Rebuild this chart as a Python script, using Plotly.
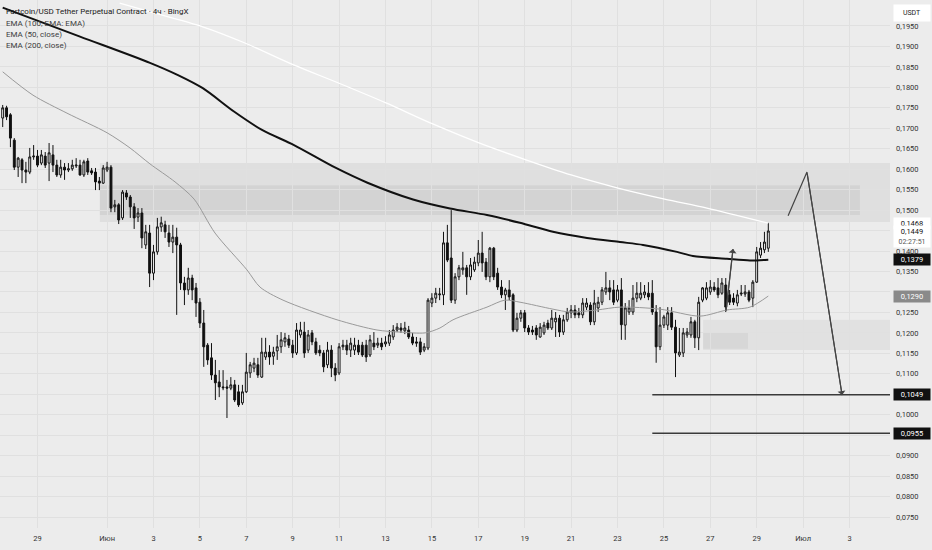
import plotly.graph_objects as go
import pandas as pd

# ---------------- data ----------------
candle_start = "2025-05-27 12:00"   # first 4h bar
opens = [.1725,.1750,.1733,.1671,.1605,.1623,.1598,.1593,.1630,.1632,
         .1615,.1632,.1615,.1635,.1610,.1586,.1605,.1598,.1601,.1608,
         .1610,.1586,.1620,.1596,.1593,.1571,.1566,.1598,.1605,.1508,
         .1513,.1481,.1542,.1532,.1508,.1483,.1493,.1415,.1444,.1346,
         .1398,.1459,.1464,.1444,.1422,.1434,.1415,.1322,.1305,.1334,
         .1310,.1275,.1224,.1170,.1139,.1097,.1080,.1068,.1068,.1065,
         .1073,.1056,.1029,.1056,.1102,.1114,.1122,.1092,.1141,.1153,
         .1143,.1156,.1166,.1178,.1185,.1170,.1151,.1195,.1202,.1158,
         .1200,.1178,.1158,.1151,.1122,.1158,.1114,.1102,.1166,.1170,
         .1158,.1158,.1170,.1170,.1170,.1146,.1175,.1170,.1175,.1173,
         .1175,.1190,.1207,.1212,.1205,.1207,.1190,.1178,.1178,.1158,
         .1163,.1273,.1285,.1293,.1293,.1420,.1383,.1280,.1337,.1354,
         .1359,.1337,.1354,.1371,.1395,.1373,.1337,.1407,.1346,.1312,
         .1293,.1305,.1293,.1207,.1236,.1249,.1212,.1207,.1212,.1190,
         .1200,.1224,.1212,.1227,.1236,.1202,.1232,.1249,.1256,.1249,
         .1244,.1263,.1268,.1227,.1261,.1275,.1300,.1310,.1305,.1280,
         .1305,.1219,.1251,.1251,.1285,.1285,.1293,.1297,.1297,.1251,
         .1166,.1219,.1219,.1249,.1214,.1146,.1151,.1195,.1195,.1227,
         .1188,.1280,.1285,.1300,.1312,.1310,.1297,.1317,.1293,.1285,
         .1273,.1295,.1295,.1300,.1285,.1324,.1390,.1403,.1407]
highs = [.1757,.1755,.1737,.1676,.1630,.1627,.1618,.1652,.1659,.1647,
         .1647,.1642,.1664,.1659,.1623,.1623,.1615,.1615,.1623,.1627,
         .1623,.1623,.1627,.1603,.1603,.1581,.1610,.1618,.1610,.1525,
         .1517,.1549,.1549,.1537,.1517,.1505,.1505,.1464,.1464,.1415,
         .1481,.1484,.1474,.1464,.1464,.1457,.1420,.1337,.1359,.1342,
         .1322,.1285,.1256,.1175,.1175,.1134,.1109,.1109,.1085,.1092,
         .1085,.1073,.1073,.1151,.1129,.1139,.1139,.1188,.1188,.1170,
         .1166,.1195,.1202,.1200,.1195,.1183,.1224,.1227,.1227,.1207,
         .1207,.1188,.1170,.1158,.1178,.1170,.1126,.1175,.1183,.1183,
         .1188,.1188,.1183,.1178,.1183,.1195,.1202,.1188,.1188,.1192,
         .1207,.1219,.1224,.1224,.1227,.1217,.1200,.1190,.1188,.1175,
         .1285,.1297,.1310,.1310,.1447,.1464,.1500,.1346,.1366,.1398,
         .1366,.1383,.1386,.1427,.1447,.1383,.1410,.1410,.1359,.1329,
         .1310,.1329,.1297,.1249,.1256,.1256,.1219,.1217,.1219,.1224,
         .1227,.1232,.1256,.1251,.1244,.1244,.1261,.1268,.1268,.1261,
         .1285,.1285,.1275,.1305,.1288,.1312,.1349,.1329,.1329,.1317,
         .1334,.1273,.1280,.1317,.1324,.1324,.1317,.1324,.1329,.1268,
         .1263,.1244,.1263,.1263,.1232,.1212,.1212,.1212,.1239,.1232,
         .1288,.1312,.1324,.1329,.1324,.1334,.1334,.1334,.1305,.1297,
         .1305,.1317,.1317,.1305,.1329,.1410,.1422,.1447,.1469]
lows = [.1703,.1720,.1654,.1598,.1581,.1566,.1566,.1588,.1623,.1605,
        .1610,.1603,.1571,.1593,.1581,.1579,.1574,.1593,.1596,.1603,
        .1584,.1581,.1586,.1586,.1549,.1549,.1564,.1593,.1495,.1495,
        .1466,.1476,.1525,.1481,.1454,.1471,.1407,.1405,.1312,.1329,
        .1391,.1447,.1432,.1410,.1395,.1244,.1305,.1268,.1293,.1280,
        .1239,.1212,.1117,.1122,.1085,.1036,.1043,.1060,.0992,.1060,
        .1031,.1019,.1024,.1053,.1090,.1104,.1090,.1090,.1134,.1122,
        .1122,.1134,.1151,.1166,.1163,.1139,.1146,.1188,.1139,.1151,
        .1170,.1146,.1143,.1104,.1114,.1092,.1082,.1097,.1158,.1146,
        .1141,.1146,.1146,.1141,.1129,.1141,.1158,.1163,.1158,.1166,
        .1168,.1183,.1202,.1200,.1197,.1185,.1170,.1166,.1146,.1153,
        .1158,.1263,.1273,.1280,.1268,.1373,.1273,.1271,.1329,.1342,
        .1293,.1329,.1349,.1363,.1349,.1329,.1324,.1329,.1305,.1285,
        .1256,.1280,.1202,.1202,.1227,.1202,.1195,.1195,.1183,.1188,
        .1195,.1207,.1207,.1190,.1190,.1195,.1227,.1236,.1236,.1236,
        .1236,.1256,.1219,.1219,.1251,.1268,.1293,.1280,.1268,.1275,
        .1183,.1183,.1244,.1244,.1275,.1280,.1285,.1280,.1244,.1127,
        .1158,.1212,.1207,.1207,.1092,.1141,.1141,.1188,.1188,.1163,
        .1158,.1275,.1280,.1293,.1300,.1285,.1293,.1251,.1268,.1268,
        .1265,.1290,.1288,.1275,.1263,.1322,.1383,.1395,.1398]
closes = [.1750,.1728,.1676,.1605,.1627,.1598,.1593,.1630,.1632,.1610,
          .1635,.1610,.1640,.1610,.1586,.1605,.1598,.1601,.1610,.1610,
          .1586,.1618,.1593,.1591,.1569,.1566,.1603,.1605,.1505,.1513,
          .1476,.1544,.1532,.1508,.1481,.1493,.1432,.1447,.1346,.1398,
          .1459,.1469,.1447,.1422,.1434,.1415,.1322,.1305,.1334,.1305,
          .1273,.1224,.1166,.1134,.1097,.1078,.1068,.1066,.1065,.1073,
          .1036,.1024,.1056,.1104,.1122,.1126,.1097,.1153,.1153,.1141,
          .1153,.1166,.1183,.1188,.1170,.1151,.1207,.1207,.1151,.1195,
          .1178,.1151,.1151,.1117,.1158,.1114,.1097,.1166,.1170,.1158,
          .1175,.1170,.1153,.1146,.1141,.1183,.1166,.1175,.1166,.1178,
          .1195,.1207,.1214,.1207,.1212,.1190,.1175,.1175,.1153,.1166,
          .1280,.1285,.1297,.1295,.1420,.1378,.1280,.1337,.1359,.1359,
          .1337,.1366,.1373,.1395,.1371,.1337,.1407,.1337,.1312,.1293,
          .1305,.1288,.1207,.1236,.1249,.1212,.1202,.1202,.1195,.1214,
          .1219,.1212,.1236,.1236,.1202,.1232,.1251,.1256,.1244,.1244,
          .1273,.1273,.1227,.1273,.1275,.1305,.1310,.1300,.1275,.1305,
          .1220,.1261,.1261,.1285,.1297,.1297,.1300,.1288,.1251,.1166,
          .1219,.1239,.1249,.1214,.1151,.1153,.1200,.1202,.1227,.1188,
          .1275,.1310,.1310,.1312,.1305,.1293,.1322,.1263,.1275,.1275,
          .1293,.1297,.1300,.1280,.1324,.1398,.1407,.1422,.1449]

# EMA 200 (light line)
ema200_t = ["2025-06-01 13:00", "2025-06-02 20:00", "2025-06-05 03:00", "2025-06-06 22:00",
            "2025-06-09 01:00", "2025-06-11 00:00", "2025-06-13 00:30", "2025-06-15 01:30",
            "2025-06-17 00:00", "2025-06-19 01:20", "2025-06-21 00:00", "2025-06-23 00:30",
            "2025-06-25 00:45", "2025-06-26 20:30", "2025-06-29 12:00"]
ema200_v = [0.2006, 0.1985, 0.1948, 0.1909, 0.1855, 0.1810, 0.1762, 0.1710,
            0.1665, 0.1623, 0.1586, 0.1554, 0.1527, 0.1505, 0.1468]
# EMA 100 (black line)
ema100_t = ["2025-05-27 12:00", "2025-05-30 20:00", "2025-06-02 20:20", "2025-06-04 01:20",
            "2025-06-05 03:00", "2025-06-06 11:15", "2025-06-07 16:15", "2025-06-09 01:20",
            "2025-06-10 20:45", "2025-06-12 05:20", "2025-06-14 04:30", "2025-06-15 18:45",
            "2025-06-17 09:00", "2025-06-18 19:00", "2025-06-20 05:15", "2025-06-21 16:30",
            "2025-06-23 02:30", "2025-06-24 02:30", "2025-06-25 13:30", "2025-06-26 06:00",
            "2025-06-27 17:15", "2025-06-28 17:00", "2025-06-29 12:00"]
ema100_v = [0.1995, 0.1924, 0.1860, 0.1830, 0.1798, 0.1741, 0.1696, 0.1659,
            0.1603, 0.1567, 0.1526, 0.1504, 0.1488, 0.1469, 0.1447, 0.1432,
            0.1422, 0.1415, 0.1398, 0.1388, 0.1381, 0.1377, 0.1379]
# EMA 50 (grey line)
ema50_t = ["2025-05-27 12:00", "2025-05-28 19:20", "2025-05-30 06:30", "2025-06-01 00:00",
           "2025-06-01 23:40", "2025-06-02 20:20", "2025-06-03 22:15", "2025-06-04 18:00",
           "2025-06-05 15:40", "2025-06-07 00:40", "2025-06-07 14:10", "2025-06-08 14:00",
           "2025-06-10 21:50", "2025-06-12 15:15", "2025-06-13 15:00", "2025-06-14 17:00",
           "2025-06-15 08:20", "2025-06-15 21:50", "2025-06-17 09:00", "2025-06-18 03:30",
           "2025-06-18 19:10", "2025-06-20 05:15", "2025-06-20 22:50", "2025-06-22 02:50",
           "2025-06-23 02:30", "2025-06-24 20:00", "2025-06-26 13:20", "2025-06-27 17:15",
           "2025-06-28 17:00", "2025-06-29 12:00"]
ema50_v = [0.1838, 0.1781, 0.1737, 0.1689, 0.1652, 0.1613, 0.1569, 0.1527,
           0.1444, 0.1354, 0.1312, 0.1280, 0.1232, 0.1207, 0.1202, 0.1200,
           0.1212, 0.1232, 0.1263, 0.1280, 0.1275, 0.1258, 0.1251, 0.1256,
           0.1263, 0.1258, 0.1241, 0.1256, 0.1263, 0.1290]

x_tick_dates = ["2025-05-29", "2025-06-01", "2025-06-03", "2025-06-05", "2025-06-07",
                "2025-06-09", "2025-06-11", "2025-06-13", "2025-06-15", "2025-06-17",
                "2025-06-19", "2025-06-21", "2025-06-23", "2025-06-25", "2025-06-27",
                "2025-06-29", "2025-07-01", "2025-07-03"]
x_tick_labels = ["29", "Июн", "3", "5", "7", "9", "11", "13", "15", "17",
                 "19", "21", "23", "25", "27", "29", "Июл", "3"]
y_ticks = [0.075, 0.080, 0.085, 0.090, 0.095, 0.100, 0.105, 0.110, 0.115, 0.120,
           0.125, 0.130, 0.135, 0.140, 0.145, 0.150, 0.155, 0.160, 0.165, 0.170,
           0.175, 0.180, 0.185, 0.190, 0.195]
# tick labels hidden behind the price tags on the scale
y_ticks_covered = [0.095, 0.105, 0.130, 0.145]

# drawn zones and levels
upper_zone = {"start": "2025-05-31 16:30", "low": 0.1471, "high": 0.1615}
upper_core = {"start": "2025-05-31 16:30", "end": "2025-07-03 10:50", "low": 0.1488, "high": 0.1561}
lower_zone = {"start": "2025-06-26 16:30", "low": 0.1158, "high": 0.1232}
lower_core = {"start": "2025-06-26 16:30", "end": "2025-06-28 15:00", "low": 0.1161, "high": 0.1202}
levels = [0.1049, 0.0955]
levels_start = "2025-06-24 12:00"
path_t = ["2025-06-30 08:30", "2025-07-01 04:00", "2025-07-02 16:20"]
path_v = [0.1486, 0.1593, 0.1048]
small_arrow_t = ["2025-06-27 16:20", "2025-06-27 23:30"]
small_arrow_v = [0.1254, 0.1405]

last_price = 0.1449
countdown = "02:27:51"

x_range = ["2025-05-27 09:13", "2025-07-04 17:54"]
y_range = [0.07232, 0.20135]
chart_end = "2025-07-06"

# ---------------- figure ----------------
times = pd.date_range(candle_start, periods=len(opens), freq="4h")
BG = "#ececec"
FONT = "Roboto"
FS = 7.5

fig = go.Figure()

fig.add_trace(go.Scatter(x=ema200_t, y=ema200_v, mode="lines",
                         line=dict(color="#ffffff", width=1.3, shape="spline", smoothing=0.8),
                         hoverinfo="skip"))
fig.add_trace(go.Scatter(x=ema50_t, y=ema50_v, mode="lines",
                         line=dict(color="#9a9a9a", width=1, shape="spline", smoothing=0.8),
                         hoverinfo="skip"))
fig.add_trace(go.Scatter(x=ema100_t, y=ema100_v, mode="lines",
                         line=dict(color="#111111", width=2, shape="spline", smoothing=0.8),
                         hoverinfo="skip"))

fig.add_trace(go.Candlestick(
    x=times, open=opens, high=highs, low=lows, close=closes,
    increasing=dict(line=dict(color="#111111", width=1), fillcolor="#ffffff"),
    decreasing=dict(line=dict(color="#111111", width=1), fillcolor="#111111"),
    whiskerwidth=0, hoverinfo="skip"))

# drawing: forecast path and small arrow
fig.add_trace(go.Scatter(x=path_t, y=path_v, mode="lines",
                         line=dict(color="#444444", width=1.2), hoverinfo="skip"))
fig.add_trace(go.Scatter(x=small_arrow_t, y=small_arrow_v, mode="lines",
                         line=dict(color="#444444", width=1.2), hoverinfo="skip"))

shapes = []
shapes.append(dict(type="rect", xref="x", yref="y", x0=upper_zone["start"], x1=chart_end,
                   y0=upper_zone["low"], y1=upper_zone["high"], line=dict(width=0),
                   fillcolor="rgba(0,0,0,0.055)", layer="below"))
shapes.append(dict(type="rect", xref="x", yref="y", x0=upper_core["start"], x1=upper_core["end"],
                   y0=upper_core["low"], y1=upper_core["high"], line=dict(width=0),
                   fillcolor="rgba(0,0,0,0.05)", layer="below"))
shapes.append(dict(type="rect", xref="x", yref="y", x0=lower_zone["start"], x1=chart_end,
                   y0=lower_zone["low"], y1=lower_zone["high"], line=dict(width=0),
                   fillcolor="rgba(0,0,0,0.045)", layer="below"))
shapes.append(dict(type="rect", xref="x", yref="y", x0=lower_core["start"], x1=lower_core["end"],
                   y0=lower_core["low"], y1=lower_core["high"], line=dict(width=0),
                   fillcolor="rgba(0,0,0,0.045)", layer="below"))
for lv in levels:
    shapes.append(dict(type="line", xref="x", yref="y", x0=levels_start, x1=chart_end,
                       y0=lv, y1=lv, line=dict(color="#3a3a3a", width=1.5)))

annotations = []
# arrow heads
annotations.append(dict(x=path_t[2], y=path_v[2], ax=path_t[1], ay=path_v[1],
                        xref="x", yref="y", axref="x", ayref="y", text="", showarrow=True,
                        arrowhead=1, arrowsize=1.2, arrowwidth=1.1, arrowcolor="#444444"))
annotations.append(dict(x=small_arrow_t[1], y=small_arrow_v[1], ax=small_arrow_t[0], ay=small_arrow_v[0],
                        xref="x", yref="y", axref="x", ayref="y", text="", showarrow=True,
                        arrowhead=1, arrowsize=1.2, arrowwidth=1.1, arrowcolor="#444444"))

# legend texts
legend_lines = ["Fartcoin/USD Tether Perpetual Contract · 4ч · BingX",
                "EMA (100, EMA: EMA)", "EMA (50, close)", "EMA (200, close)"]
for k, t in enumerate(legend_lines):
    annotations.append(dict(xref="paper", yref="paper", x=0.005, y=1 - (12 + 11.3 * k) / 528,
                            xanchor="left", yanchor="middle", text=t, showarrow=False,
                            font=dict(family=FONT, size=8, color="#1a1a1a" if k == 0 else "#3c3c3c")))

# right-axis price labels
AX = 893 / 890
def price_tag(y, text, bg, fg, yshift=0):
    return dict(xref="paper", yref="y", x=AX, y=y, xanchor="left", yanchor="middle",
                text=text, showarrow=False, bgcolor=bg, width=34, align="center",
                borderpad=1, yshift=yshift, font=dict(family=FONT, size=FS, color=fg))

annotations.append(dict(xref="paper", yref="paper", x=AX, y=1 - 13 / 528, xanchor="left",
                        yanchor="middle", text="USDT", showarrow=False, bgcolor="#ffffff",
                        width=34, height=14, font=dict(family=FONT, size=7, color="#222")))
annotations.append(price_tag(ema200_v[-1], "0,1468", "#ffffff", "#111"))
annotations.append(price_tag(last_price, "0,1449<br><span style='font-size:7px;color:#555'>" + countdown + "</span>",
                             "#ffffff", "#111", yshift=-5))
annotations.append(price_tag(ema100_v[-1], "0,1379", "#111111", "#ffffff"))
annotations.append(price_tag(ema50_v[-1], "0,1290", "#8a8a8a", "#ffffff"))
for lv in levels:
    annotations.append(price_tag(lv, ("%.4f" % lv).replace(".", ","), "#111111", "#ffffff"))

y_ticktext = ["" if v in y_ticks_covered else ("%.4f" % v).replace(".", ",") for v in y_ticks]

fig.update_layout(
    width=932, height=550,
    margin=dict(l=0, r=42, t=0, b=22),
    paper_bgcolor=BG, plot_bgcolor=BG,
    showlegend=False, hovermode=False,
    font=dict(family=FONT, size=FS, color="#333"),
    shapes=shapes, annotations=annotations,
    xaxis=dict(type="date", range=x_range, tickvals=x_tick_dates, ticktext=x_tick_labels,
               showgrid=True, gridcolor="#e0e0e0", gridwidth=1, zeroline=False,
               rangeslider=dict(visible=False), ticks="", showline=False,
               ticklabelstandoff=4,
               tickfont=dict(family=FONT, size=FS, color="#333")),
    yaxis=dict(side="right", range=y_range, tickvals=y_ticks, ticktext=y_ticktext,
               showgrid=True, gridcolor="#e0e0e0", gridwidth=1, zeroline=False,
               ticks="", showline=False, ticklabelstandoff=5,
               tickfont=dict(family=FONT, size=FS, color="#333")),
)

fig.write_html("out.html", config={"displayModeBar": False},
               post_script="document.body.style.margin='0';")
